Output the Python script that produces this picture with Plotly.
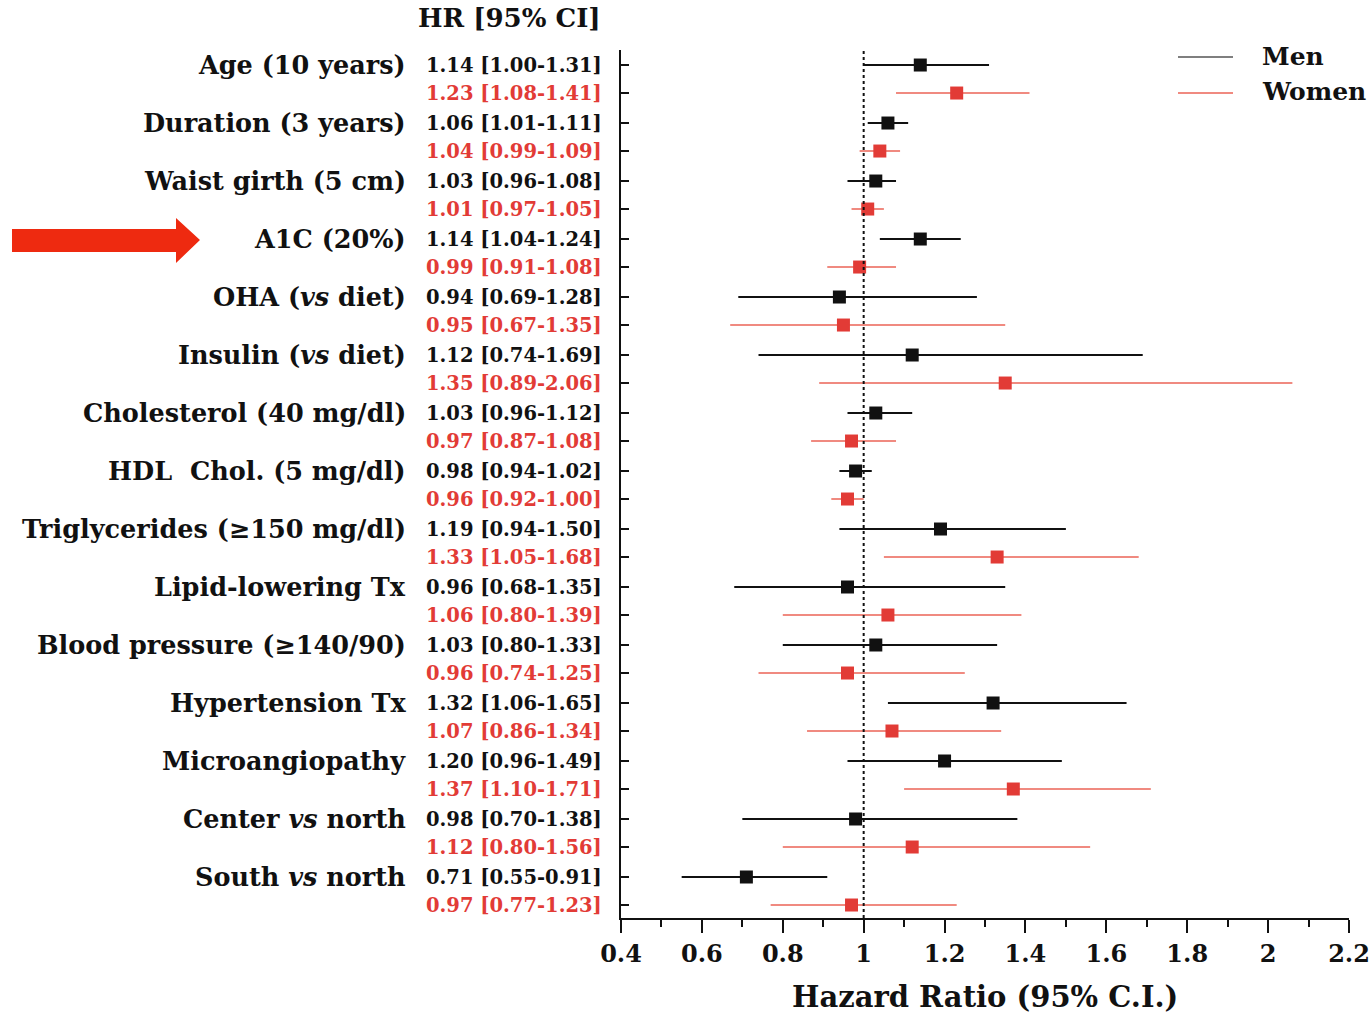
import plotly.graph_objects as go

categories = ["Age (10 years)", "Duration (3 years)", "Waist girth (5 cm)", "A1C (20%)",
              "OHA (<i>vs</i> diet)", "Insulin (<i>vs</i> diet)", "Cholesterol (40 mg/dl)",
              "HDL  Chol. (5 mg/dl)", "Triglycerides (≥150 mg/dl)", "Lipid-lowering Tx",
              "Blood pressure (≥140/90)", "Hypertension Tx", "Microangiopathy",
              "Center <i>vs</i> north", "South <i>vs</i> north"]
men_hr = [1.14, 1.06, 1.03, 1.14, 0.94, 1.12, 1.03, 0.98, 1.19, 0.96, 1.03, 1.32, 1.20, 0.98, 0.71]
men_lo = [1.00, 1.01, 0.96, 1.04, 0.69, 0.74, 0.96, 0.94, 0.94, 0.68, 0.80, 1.06, 0.96, 0.70, 0.55]
men_hi = [1.31, 1.11, 1.08, 1.24, 1.28, 1.69, 1.12, 1.02, 1.50, 1.35, 1.33, 1.65, 1.49, 1.38, 0.91]
women_hr = [1.23, 1.04, 1.01, 0.99, 0.95, 1.35, 0.97, 0.96, 1.33, 1.06, 0.96, 1.07, 1.37, 1.12, 0.97]
women_lo = [1.08, 0.99, 0.97, 0.91, 0.67, 0.89, 0.87, 0.92, 1.05, 0.80, 0.74, 0.86, 1.10, 0.80, 0.77]
women_hi = [1.41, 1.09, 1.05, 1.08, 1.35, 2.06, 1.08, 1.00, 1.68, 1.39, 1.25, 1.34, 1.71, 1.56, 1.23]
x_ticks = [0.4, 0.6, 0.8, 1.0, 1.2, 1.4, 1.6, 1.8, 2.0, 2.2]

W, H = 1371, 1013
ML, MR, MT, MB = 621, 22, 50, 95
PW, PH = W - ML - MR, H - MT - MB

def px(xp):
    return (xp - ML) / PW

def py(yp):
    return (H - MB - yp) / PH

FONT = "DejaVu Serif"
BLACK = "#111111"
RED = "#e23b36"
RED_LINE = "#f08a80"

n = len(categories)
men_y = [i for i in range(n)]
women_y = [i + 0.483 for i in range(n)]

fig = go.Figure()
fig.add_trace(go.Scatter(
    x=men_hr, y=men_y, mode="markers", name="Men",
    marker=dict(symbol="square", size=13, color=BLACK),
    error_x=dict(type="data", symmetric=False,
                 array=[h - m for h, m in zip(men_hi, men_hr)],
                 arrayminus=[m - l for m, l in zip(men_hr, men_lo)],
                 width=0, thickness=1.8, color=BLACK),
    showlegend=False))
fig.add_trace(go.Scatter(
    x=women_hr, y=women_y, mode="markers", name="Women",
    marker=dict(symbol="square", size=13, color=RED),
    error_x=dict(type="data", symmetric=False,
                 array=[h - m for h, m in zip(women_hi, women_hr)],
                 arrayminus=[m - l for m, l in zip(women_hr, women_lo)],
                 width=0, thickness=2, color=RED_LINE),
    showlegend=False))

ann = []
for i in range(n):
    ann.append(dict(x=px(408), y=men_y[i], xref="paper", yref="y", text=categories[i],
                    showarrow=False, xanchor="right", yanchor="middle",
                    font=dict(family=FONT, size=25.5, color=BLACK, weight="bold")))
    ann.append(dict(x=px(424), y=men_y[i], xref="paper", yref="y",
                    text=f"{men_hr[i]:.2f} [{men_lo[i]:.2f}-{men_hi[i]:.2f}]",
                    showarrow=False, xanchor="left", yanchor="middle",
                    font=dict(family=FONT, size=19.5, color=BLACK, weight="bold")))
    ann.append(dict(x=px(424), y=women_y[i], xref="paper", yref="y",
                    text=f"{women_hr[i]:.2f} [{women_lo[i]:.2f}-{women_hi[i]:.2f}]",
                    showarrow=False, xanchor="left", yanchor="middle",
                    font=dict(family=FONT, size=19.5, color=RED, weight="bold")))

ann.append(dict(x=px(416), y=py(18), xref="paper", yref="paper", text="HR [95% CI]",
                showarrow=False, xanchor="left", yanchor="middle",
                font=dict(family=FONT, size=26, color=BLACK, weight="bold")))
ann.append(dict(x=px(1260), y=py(57), xref="paper", yref="paper", text="Men",
                showarrow=False, xanchor="left", yanchor="middle",
                font=dict(family=FONT, size=25, color=BLACK, weight="bold")))
ann.append(dict(x=px(1260), y=py(92), xref="paper", yref="paper", text="Women",
                showarrow=False, xanchor="left", yanchor="middle",
                font=dict(family=FONT, size=25, color=BLACK, weight="bold")))
ann.append(dict(x=0.5, y=py(997), xref="paper", yref="paper", text="Hazard Ratio (95% C.I.)",
                showarrow=False, xanchor="center", yanchor="middle",
                font=dict(family=FONT, size=29, color=BLACK, weight="bold")))

shapes = [
    dict(type="line", xref="x", yref="paper", x0=1, x1=1, y0=0, y1=1,
         line=dict(color=BLACK, width=2, dash="dot")),
    dict(type="line", xref="paper", yref="paper", x0=px(1178), x1=px(1233), y0=py(57), y1=py(57),
         line=dict(color="#555555", width=1.5)),
    dict(type="line", xref="paper", yref="paper", x0=px(1178), x1=px(1233), y0=py(93), y1=py(93),
         line=dict(color=RED_LINE, width=2)),
]
arrow_pts = [(12, 229), (176, 229), (176, 218), (200, 240), (176, 263), (176, 252), (12, 252)]
path = "M " + " L ".join(f"{px(a):.5f},{py(b):.5f}" for a, b in arrow_pts) + " Z"
shapes.append(dict(type="path", xref="paper", yref="paper", path=path,
                   fillcolor="#ee2a10", line=dict(width=0)))

fig.update_layout(
    width=W, height=H, margin=dict(l=ML, r=MR, t=MT, b=MB, autoexpand=False),
    paper_bgcolor="white", plot_bgcolor="white",
    annotations=ann, shapes=shapes,
    xaxis=dict(range=[0.4, 2.2], tickvals=x_ticks, ticktext=[f"{v:g}" for v in x_ticks],
               automargin=False,
               showline=True, linecolor=BLACK, linewidth=2, ticks="outside", ticklen=13,
               tickwidth=2, tickcolor=BLACK, showgrid=False, zeroline=False,
               minor=dict(dtick=0.1, tick0=0.4, ticks="outside", ticklen=7, tickwidth=2,
                          tickcolor=BLACK, showgrid=False),
               tickfont=dict(family=FONT, size=24, color=BLACK, weight="bold")),
    yaxis=dict(range=[14.707, -0.259], tickvals=men_y + women_y, showticklabels=False,
               automargin=False,
               showline=True, linecolor=BLACK, linewidth=2, ticks="inside", ticklen=8,
               tickwidth=2, tickcolor=BLACK, showgrid=False, zeroline=False),
)

fig.write_html("out.html")
